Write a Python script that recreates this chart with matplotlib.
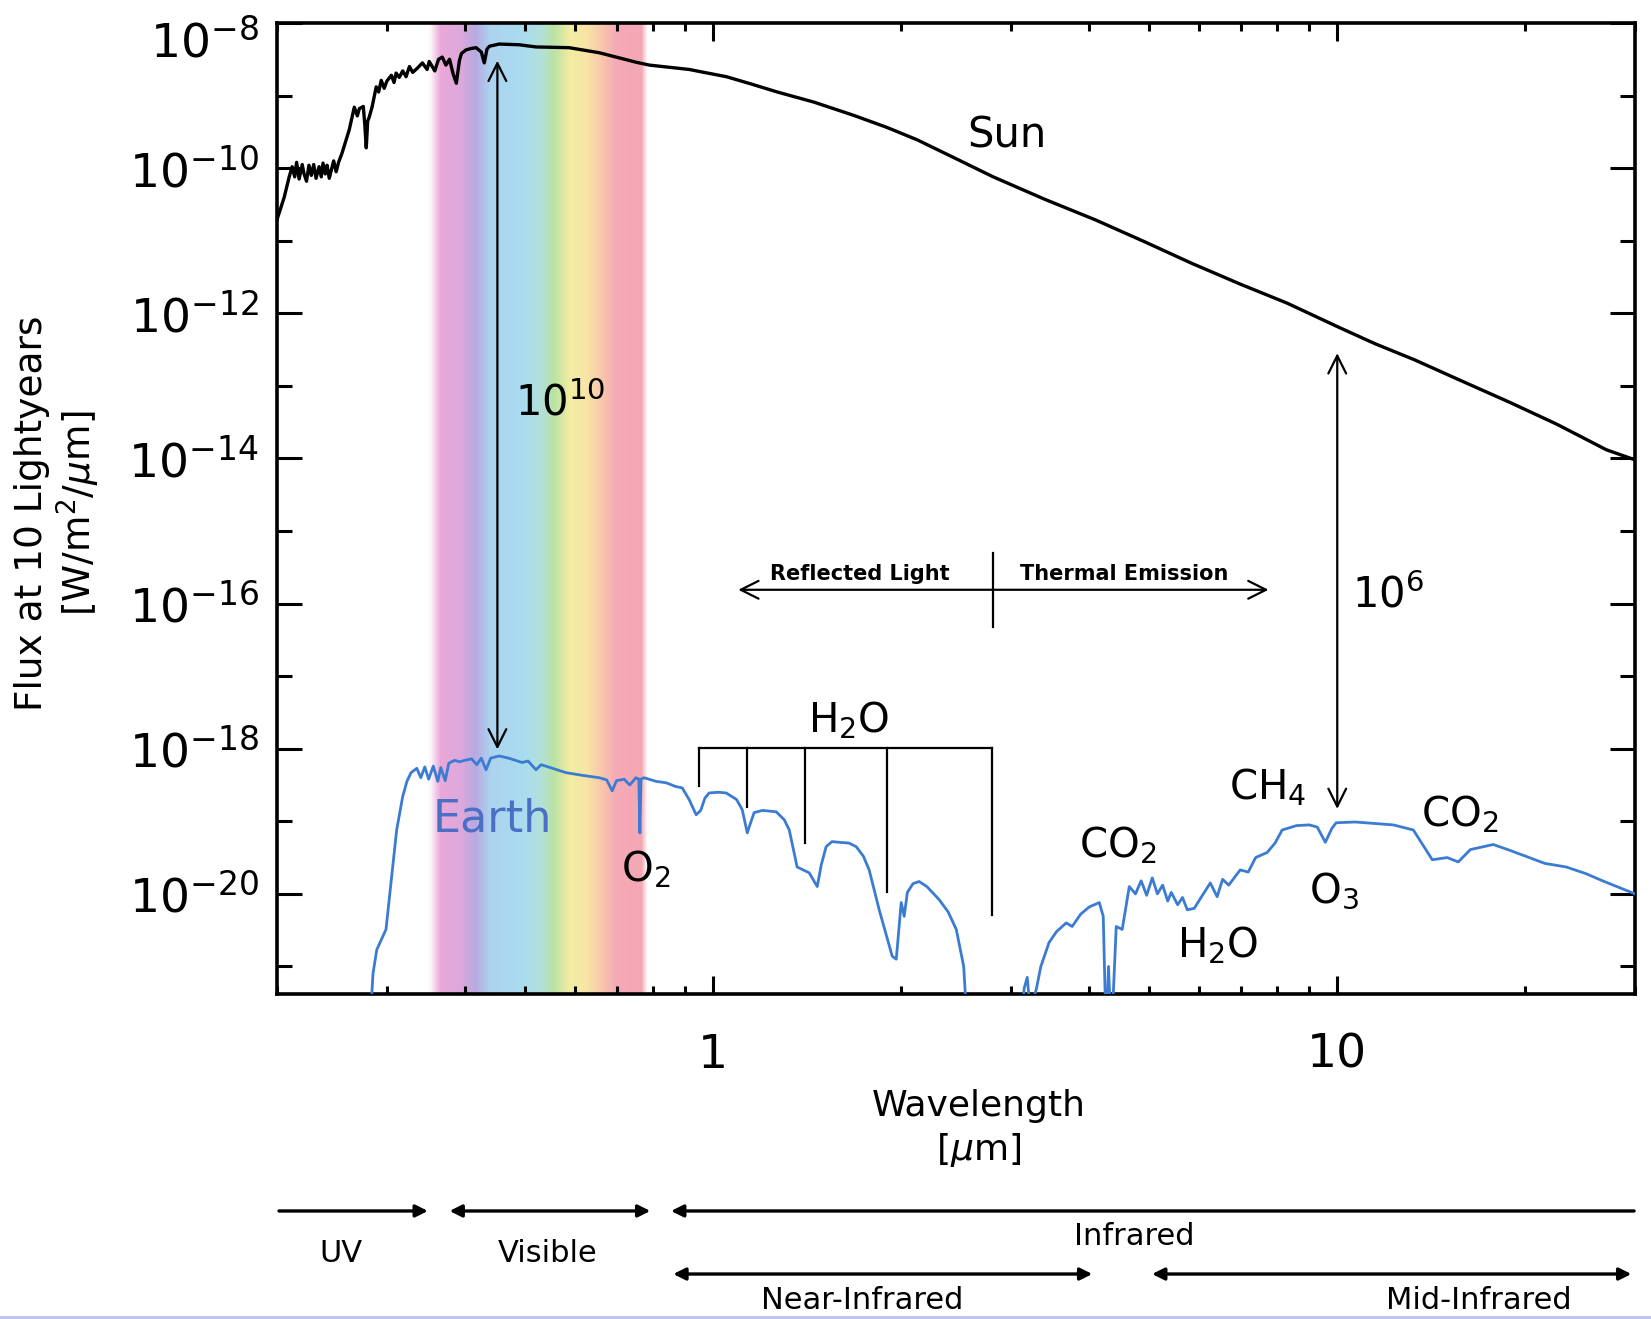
import numpy as np
import matplotlib
matplotlib.use('Agg')
import matplotlib.pyplot as plt
import matplotlib.transforms as mtransforms
from matplotlib.colors import LinearSegmentedColormap
from matplotlib.ticker import FixedLocator, FixedFormatter, LogFormatterSciNotation, NullFormatter, LogLocator

plt.rcParams['font.family'] = ['DejaVu Sans']
plt.rcParams['mathtext.fontset'] = 'dejavusans'

nan = np.nan

# Sun spectrum: (wavelength um, log10 flux)
sun = [(0.200, -10.71), (0.2054, -10.40), (0.2092, -10.12), (0.2115, -9.98), (0.2135, -10.12),
       (0.2150, -9.92), (0.2170, -10.15), (0.2195, -9.95), (0.2210, -10.08), (0.2230, -10.18),
       (0.2250, -9.96), (0.2270, -10.10), (0.2290, -9.95), (0.2310, -10.14), (0.2336, -9.98),
       (0.2355, -10.12), (0.2370, -9.93), (0.2390, -10.08), (0.2406, -9.96), (0.2425, -10.14),
       (0.2445, -10.02), (0.2465, -9.90), (0.2488, -10.05), (0.2510, -9.92), (0.2543, -9.79),
       (0.2611, -9.47), (0.2660, -9.16), (0.2690, -9.28), (0.2710, -9.18), (0.2750, -9.15),
       (0.2765, -9.40), (0.2780, -9.72), (0.2795, -9.35), (0.2810, -9.30), (0.2840, -9.16),
       (0.2884, -8.88), (0.2910, -8.95), (0.2938, -8.79), (0.2970, -8.90), (0.3000, -8.80),
       (0.3050, -8.72), (0.3080, -8.82), (0.3104, -8.69), (0.3140, -8.75), (0.3180, -8.66),
       (0.3220, -8.74), (0.3260, -8.60), (0.3300, -8.68), (0.3350, -8.63), (0.3420, -8.55),
       (0.3480, -8.64), (0.3507, -8.53), (0.3580, -8.66), (0.3630, -8.50), (0.3680, -8.47),
       (0.3730, -8.58), (0.3780, -8.50), (0.3830, -8.70), (0.3876, -8.83), (0.3920, -8.52),
       (0.3950, -8.42), (0.4018, -8.37), (0.4100, -8.35), (0.4170, -8.34), (0.4250, -8.40),
       (0.4297, -8.55), (0.4340, -8.36), (0.4380, -8.32), (0.4540, -8.29), (0.4890, -8.30),
       (0.5200, -8.33), (0.5876, -8.34), (0.6570, -8.41), (0.7520, -8.54), (0.7900, -8.58),
       (0.8500, -8.61), (0.9150, -8.64), (0.9530, -8.67), (1.050, -8.74), (1.150, -8.84),
       (1.266, -8.95), (1.450, -9.09), (1.676, -9.27), (1.900, -9.44), (2.123, -9.61),
       (2.450, -9.87), (2.810, -10.12), (3.400, -10.43), (4.090, -10.71), (4.900, -11.01),
       (5.840, -11.31), (7.000, -11.60), (8.310, -11.86), (10.04, -12.19), (11.50, -12.42),
       (13.29, -12.64), (15.80, -12.93), (18.93, -13.23), (22.50, -13.53), (26.98, -13.88),
       (30.00, -14.02)]

# Earth spectrum (nan = gap where the flux falls off the plot)
earth = [(0.281, -22.0), (0.285, -21.1), (0.289, -20.77), (0.299, -20.49), (0.305, -19.80),
         (0.311, -19.12), (0.318, -18.66), (0.323, -18.45), (0.328, -18.33), (0.335, -18.27),
         (0.340, -18.40), (0.345, -18.25), (0.350, -18.42), (0.356, -18.24), (0.362, -18.45),
         (0.366, -18.26), (0.372, -18.44), (0.377, -18.20), (0.385, -18.16), (0.392, -18.18),
         (0.400, -18.16), (0.410, -18.14), (0.418, -18.22), (0.425, -18.13), (0.4325, -18.29),
         (0.440, -18.13), (0.454, -18.10), (0.470, -18.13), (0.494, -18.19), (0.505, -18.17),
         (0.520, -18.29), (0.530, -18.22), (0.581, -18.33), (0.620, -18.37), (0.657, -18.40),
         (0.675, -18.43), (0.689, -18.58), (0.700, -18.44), (0.720, -18.42), (0.735, -18.50),
         (0.752, -18.40), (0.760, -18.42), (0.763, -19.16), (0.766, -18.42), (0.775, -18.40),
         (0.810, -18.45), (0.841, -18.47), (0.870, -18.52), (0.892, -18.54), (0.915, -18.70),
         (0.939, -18.91), (0.955, -18.85), (0.970, -18.68), (0.985, -18.61), (1.020, -18.60),
         (1.049, -18.61), (1.090, -18.70), (1.113, -18.84), (1.134, -19.16), (1.145, -19.05),
         (1.163, -18.88), (1.200, -18.85), (1.262, -18.87), (1.300, -18.98), (1.324, -19.12),
         (1.363, -19.63), (1.425, -19.71), (1.468, -19.90), (1.490, -19.60), (1.517, -19.35),
         (1.550, -19.28), (1.592, -19.29), (1.650, -19.30), (1.695, -19.35), (1.740, -19.48),
         (1.778, -19.67), (1.845, -20.22), (1.936, -20.86), (1.965, -20.90), (2.001, -20.12),
         (2.023, -20.31), (2.047, -19.98), (2.090, -19.86), (2.138, -19.83), (2.200, -19.90),
         (2.302, -20.08), (2.380, -20.25), (2.452, -20.49), (2.520, -21.0), (2.560, -22.0),
         (nan, nan), (3.100, -22.0), (3.150, -21.3), (3.186, -21.15), (3.220, -21.6),
         (3.293, -21.32), (3.350, -21.0), (3.453, -20.67), (3.550, -20.52), (3.679, -20.40),
         (3.760, -20.45), (3.880, -20.28), (4.006, -20.18), (4.156, -20.12), (4.217, -20.31),
         (4.264, -22.0), (4.300, -21.0), (4.345, -22.0), (4.424, -20.45), (4.523, -20.49),
         (4.642, -19.90), (4.750, -20.00), (4.850, -19.82), (4.950, -20.02), (5.053, -19.78),
         (5.150, -20.00), (5.250, -19.88), (5.350, -20.10), (5.420, -19.98), (5.550, -20.15),
         (5.650, -20.05), (5.750, -20.22), (5.900, -20.20), (6.050, -20.05), (6.260, -19.85),
         (6.420, -20.04), (6.550, -19.80), (6.700, -19.88), (6.990, -19.67), (7.200, -19.70),
         (7.400, -19.50), (7.720, -19.43), (7.950, -19.30), (8.160, -19.12), (8.600, -19.06),
         (9.020, -19.05), (9.290, -19.08), (9.570, -19.29), (9.800, -19.10), (9.960, -19.02),
         (10.69, -19.01), (12.30, -19.05), (13.24, -19.12), (14.20, -19.53), (15.00, -19.50),
         (15.63, -19.56), (16.34, -19.39), (17.78, -19.32), (18.90, -19.40), (20.16, -19.49),
         (21.50, -19.58), (23.28, -19.63), (25.00, -19.72), (26.78, -19.83), (29.60, -19.98),
         (30.00, -20.00)]

# visible band colour stops
band_wl = [0.350, 0.365, 0.395, 0.415, 0.440, 0.500, 0.530, 0.555, 0.590, 0.630, 0.660, 0.700, 0.770, 0.785]
band_colors = ['#ffffff', '#e9a8d8', '#dca8dc', '#b7a9e0', '#acd3ef', '#a9dcef', '#b2e0da',
               '#b9e2a4', '#f3eca2', '#f7e3a6', '#f8c9aa', '#f5aab6', '#f4a6b4', '#ffffff']

# H2O bracket: tooth positions and lower ends
h2o_wl = [0.950, 1.134, 1.404, 1.899, 2.80]
h2o_bottom = [-18.52, -18.81, -19.30, -19.98, -20.29]
h2o_top = -17.99

# molecule labels
mol_text = ['O$_2$', 'H$_2$O', 'CO$_2$', 'H$_2$O', 'CH$_4$', 'O$_3$', 'CO$_2$']
mol_wl = [0.778, 1.645, 4.45, 6.42, 7.72, 9.87, 15.7]
mol_logf = [-19.83, -17.77, -19.50, -20.88, -18.70, -20.12, -19.07]

# bottom wavelength regions
region_names = ['UV', 'Visible', 'Infrared', 'Near-Infrared', 'Mid-Infrared']
region_lo = [0.2015, 0.378, 0.856, 0.863, 5.05]
region_hi = [0.349, 0.793, 29.9, 4.05, 29.6]
region_style = ['-|>', '<|-|>', '<|-', '<|-|>', '<|-|>']
region_row = [0.0819, 0.0819, 0.0819, 0.0341, 0.0341]
region_text_x = [0.2535, 0.542, 4.73, 1.733, 16.83]
region_text_y = [0.050, 0.050, 0.0622, 0.0144, 0.0144]

yticks = [1e-20, 1e-18, 1e-16, 1e-14, 1e-12, 1e-10]
yminor = [1e-21, 1e-19, 1e-17, 1e-15, 1e-13, 1e-11, 1e-9]
xticks = [1, 10]
xticklabels = ['1', '10']

sun_wl, sun_logf = zip(*sun)
earth_wl, earth_logf = zip(*earth)

fig = plt.figure(figsize=(16.51, 13.19), dpi=100)
ax = fig.add_axes([0.16778, 0.2464, 0.82253, 0.73616])
ax.set_xscale('log')
ax.set_yscale('log')
ax.set_xlim(0.2, 30)
ax.set_ylim(10 ** -21.38, 1e-8)

# rainbow band
cmap = LinearSegmentedColormap.from_list(
    'vis', list(zip((np.log10(band_wl) - np.log10(band_wl[0])) /
                    (np.log10(band_wl[-1]) - np.log10(band_wl[0])), band_colors)))
xe = np.geomspace(band_wl[0], band_wl[-1], 300)
xc = np.log10(np.sqrt(xe[:-1] * xe[1:]))
ax.pcolormesh(xe, [10 ** -21.38, 1e-8], xc[None, :], cmap=cmap,
              vmin=np.log10(band_wl[0]), vmax=np.log10(band_wl[-1]), shading='flat', zorder=0)

ax.plot(sun_wl, 10.0 ** np.array(sun_logf), color='black', lw=2.4, zorder=3)
ax.plot(earth_wl, 10.0 ** np.array(earth_logf), color='#3b7cd2', lw=2.0, zorder=3)

arrow_kw = dict(arrowstyle='<->', lw=1.6, color='black', mutation_scale=32,
                shrinkA=0, shrinkB=0)
ax.annotate('', xy=(0.451, 10 ** -8.52), xytext=(0.451, 10 ** -18.01), arrowprops=arrow_kw, zorder=4)
ax.annotate('', xy=(10.0, 10 ** -12.55), xytext=(10.0, 10 ** -18.83), arrowprops=arrow_kw, zorder=4)
ax.annotate('', xy=(1.097, 10 ** -15.81), xytext=(7.76, 10 ** -15.81), arrowprops=arrow_kw, zorder=4)
ax.plot([2.81, 2.81], [10 ** -15.30, 10 ** -16.32], color='black', lw=1.6)

ax.text(0.482, 10 ** -13.41, '10$^{10}$', fontsize=30, va='baseline', ha='left')
ax.text(10.57, 10 ** -16.06, '10$^{6}$', fontsize=30, va='baseline', ha='left')
ax.text(2.95, 10 ** -9.71, 'Sun', fontsize=30, va='baseline', ha='center')
ax.text(0.442, 10 ** -19.14, 'Earth', fontsize=32, va='baseline', ha='center', color='#4a6fc4')
ax.text(1.72, 10 ** -15.68, 'Reflected Light', fontsize=15, fontweight='bold', va='baseline', ha='center')
ax.text(4.55, 10 ** -15.68, 'Thermal Emission', fontsize=15, fontweight='bold', va='baseline', ha='center')

# H2O bracket
ax.plot([h2o_wl[0], h2o_wl[-1]], [10 ** h2o_top] * 2, color='black', lw=1.6)
for w, b in zip(h2o_wl, h2o_bottom):
    ax.plot([w, w], [10 ** h2o_top, 10 ** b], color='black', lw=1.6)

for t, w, f in zip(mol_text, mol_wl, mol_logf):
    ax.text(w, 10 ** f, t, fontsize=29, ha='center', va='baseline')

# ticks
ax.yaxis.set_major_locator(FixedLocator(yticks + [1e-8]))
ax.yaxis.set_minor_locator(FixedLocator(yminor))
ax.yaxis.set_major_formatter(FixedFormatter([LogFormatterSciNotation()(t) for t in yticks] + ['']))
ax.yaxis.set_minor_formatter(NullFormatter())
ax.xaxis.set_major_locator(FixedLocator(xticks))
ax.xaxis.set_major_formatter(FixedFormatter(xticklabels))
ax.xaxis.set_minor_locator(LogLocator(base=10, subs=np.arange(2, 10)))
ax.xaxis.set_minor_formatter(NullFormatter())
ax.tick_params(which='both', direction='in', top=True, right=True, color='black')
ax.tick_params(axis='y', which='major', length=18, width=2.2, labelsize=34, pad=13)
ax.tick_params(axis='y', which='minor', length=11, width=2.2)
ax.tick_params(axis='x', which='major', length=13, width=2.2, labelsize=34, pad=28)
ax.tick_params(axis='x', which='minor', length=6, width=2.2)
for s in ax.spines.values():
    s.set_linewidth(2.6)

# top label sits a little lower in the original
ax.annotate(LogFormatterSciNotation()(1e-8), xy=(0, 1e-8),
            xycoords=mtransforms.blended_transform_factory(ax.transAxes, ax.transData),
            xytext=(-13, -11), textcoords='offset points', fontsize=34,
            ha='right', va='center_baseline', annotation_clip=False)

fig.text(0.593, 0.144, 'Wavelength\n[$\\mu$m]', fontsize=26, ha='center', va='center',
         linespacing=1.3)
fig.text(0.0351, 0.611, 'Flux at 10 Lightyears\n[W/m$^2$/$\\mu$m]', fontsize=27, rotation=90,
         ha='center', va='center', linespacing=1.15)

# bottom region arrows
trans = mtransforms.blended_transform_factory(ax.transData, fig.transFigure)
for name, lo, hi, st, ry, tx, ty in zip(region_names, region_lo, region_hi, region_style,
                                        region_row, region_text_x, region_text_y):
    ax.annotate('', xy=(hi, ry), xytext=(lo, ry), xycoords=trans, textcoords=trans,
                arrowprops=dict(arrowstyle=st, lw=2.4, color='black', mutation_scale=18,
                                shrinkA=0, shrinkB=0), annotation_clip=False)
    ax.text(tx, ty, name, transform=trans, fontsize=22, ha='center', va='center')

fig.add_artist(plt.Line2D([0, 1], [0.0015, 0.0015], transform=fig.transFigure,
                          color='#b8c2f0', lw=2))

fig.savefig('out.png', dpi=100)
